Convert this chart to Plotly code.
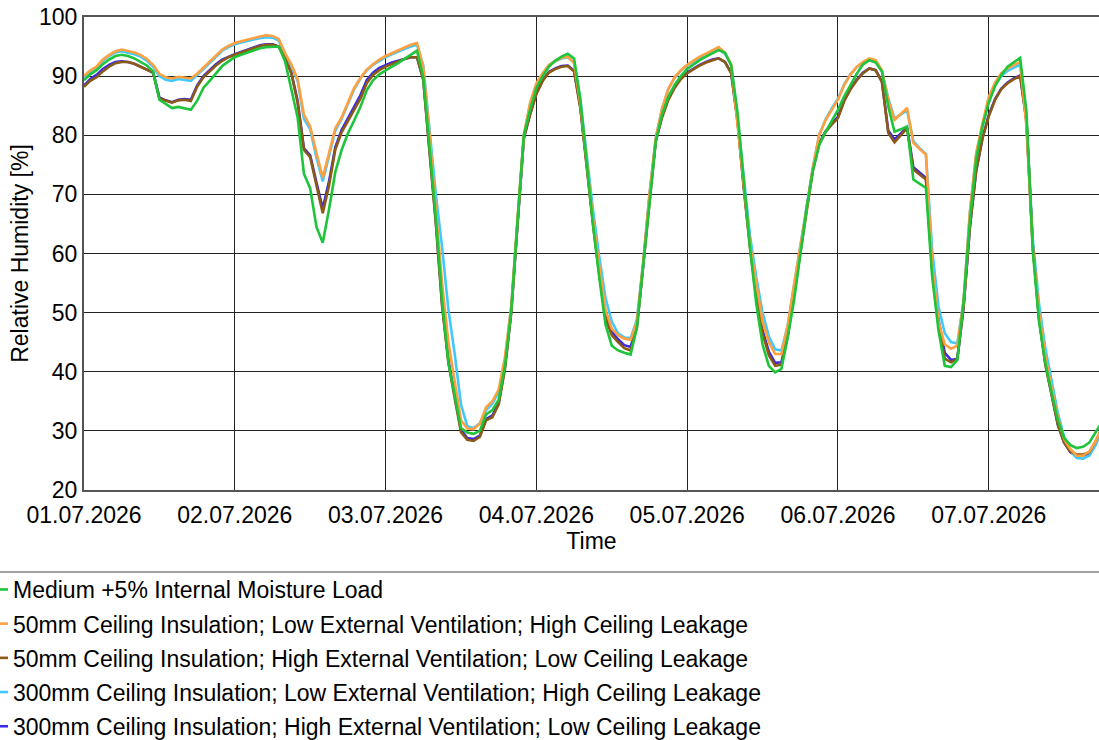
import pandas as pd
import plotly.graph_objects as go

# Hourly relative humidity [%] in the roof space, 01.07.2026 00:00 onwards
time = pd.date_range("2026-07-01 00:00", periods=163, freq="h")

medium_moisture = [
    89.3, 90.3, 91.0, 92.0, 92.8, 93.4, 93.6, 93.4, 93.0, 92.4, 91.8, 90.8,
    86.0, 85.3, 84.6, 84.8, 84.6, 84.3, 85.8, 88.0, 89.2, 90.5, 91.7, 92.5,
    93.2, 93.6, 94.0, 94.4, 94.7, 94.9, 95.0, 95.0, 92.5, 88.0, 83.0, 73.5,
    71.0, 64.5, 61.8, 67.5, 73.8, 77.5, 80.3, 82.5, 84.8, 87.6, 89.3, 90.3,
    91.0, 91.6, 92.2, 92.9, 93.6, 94.3, 89.8, 78.0, 66.0, 52.0, 41.5, 36.0,
    30.5, 29.7, 29.5, 30.0, 32.8, 33.5, 35.3, 41.0, 50.3, 65.5, 80.0, 84.3,
    88.0, 90.0, 91.6, 92.6, 93.3, 93.8, 93.0, 86.0, 75.5, 65.0, 56.0, 48.0,
    44.4, 43.6, 43.2, 42.9, 47.5, 58.0, 69.5, 79.0, 83.5, 86.5, 88.5, 90.0,
    91.2, 92.0, 92.7, 93.3, 93.9, 94.4, 94.0, 91.8, 84.0, 72.0, 61.0, 51.5,
    44.6, 41.0, 39.9, 40.5, 45.8, 52.0, 59.5, 67.5, 74.0, 78.3, 80.5, 82.5,
    84.3, 86.6, 88.5, 90.4, 92.0, 92.7, 92.3, 90.8, 84.9, 80.6, 81.0, 81.5,
    72.5, 71.8, 71.1, 56.0, 47.0, 41.0, 40.8, 42.0, 52.0, 65.5, 76.0, 81.5,
    85.5, 88.3, 90.2, 91.6, 92.4, 93.1, 84.0, 60.5, 48.5, 41.5, 36.5, 31.8,
    28.8, 27.6, 27.1, 27.3, 28.0, 29.8, 31.5,
]

ins50_lowvent_highleak = [
    90.0, 91.0, 91.6, 92.8, 93.6, 94.2, 94.5, 94.3, 94.0, 93.6, 92.9, 91.9,
    90.4, 89.8, 89.6, 89.9, 89.7, 89.6, 90.4, 91.4, 92.4, 93.5, 94.5, 95.1,
    95.6, 95.9, 96.2, 96.4, 96.7, 96.9, 96.8, 96.3, 93.9, 92.0, 89.5, 83.5,
    81.5, 77.0, 72.8, 77.0, 81.2, 83.0, 85.5, 88.0, 89.7, 91.1, 92.0, 92.8,
    93.4, 93.9, 94.4, 94.9, 95.3, 95.6, 91.5, 80.0, 67.0, 55.0, 45.0, 38.5,
    31.8, 30.4, 30.3, 31.2, 34.0, 35.0, 37.0, 42.5, 51.0, 66.0, 80.0, 85.5,
    88.8, 90.5, 91.9, 92.6, 93.1, 93.3, 92.2, 85.4, 75.2, 66.0, 58.0, 50.5,
    47.3, 46.2, 45.6, 45.4, 48.5, 58.5, 70.0, 79.5, 84.5, 87.8, 89.8, 91.0,
    91.9, 92.6, 93.3, 93.8, 94.4, 94.9, 94.0, 92.0, 82.0, 71.5, 61.6, 54.9,
    48.5, 45.0, 43.0, 43.0, 47.8, 54.7, 61.0, 67.5, 74.5, 80.0, 82.5, 84.3,
    86.0, 88.5, 90.3, 91.6, 92.4, 93.0, 92.7, 91.0, 86.0, 82.6, 83.6, 84.6,
    78.7, 77.7, 76.7, 58.0, 48.5, 44.6, 43.9, 44.4, 52.0, 67.0, 77.0, 82.0,
    86.5, 88.9, 90.5, 91.3, 91.9, 92.4, 81.5, 61.0, 50.0, 42.7, 37.3, 32.3,
    28.6, 26.9, 25.8, 25.8, 26.5, 28.2, 30.5,
]

ins50_highvent_lowleak = [
    88.2, 89.2, 89.8, 90.8, 91.6, 92.2, 92.4, 92.4, 92.1, 91.6, 91.2, 90.6,
    86.2, 85.8, 85.5, 85.9, 86.0, 85.8, 88.2, 89.8, 90.8, 91.8, 92.6, 93.2,
    93.6, 94.0, 94.4, 94.8, 95.1, 95.3, 95.3, 95.0, 93.0, 90.5, 85.5, 77.5,
    76.3, 71.5, 66.8, 71.5, 77.6, 80.5, 82.5, 84.3, 86.2, 88.8, 90.2, 91.0,
    91.6, 92.1, 92.5, 92.9, 93.2, 93.2, 89.3, 77.0, 65.0, 51.0, 41.5, 35.5,
    29.8, 28.5, 28.3, 29.0, 31.8, 32.3, 34.5, 40.5, 50.0, 65.0, 79.5, 83.5,
    87.0, 89.2, 90.6, 91.2, 91.6, 91.7, 90.8, 84.5, 74.5, 65.0, 56.5, 49.0,
    46.2, 45.0, 44.0, 43.6, 47.5, 58.0, 69.5, 79.0, 83.0, 86.0, 88.0, 89.5,
    90.5, 91.2, 91.8, 92.3, 92.7, 93.0, 92.4, 90.5, 82.5, 71.0, 61.0, 52.5,
    46.5, 42.8, 41.0, 41.2, 46.0, 53.0, 60.5, 67.5, 74.0, 78.5, 80.5, 81.8,
    82.9, 85.8, 87.8, 89.3, 90.5, 91.3, 91.0, 89.0, 80.4, 78.8, 80.0, 81.2,
    74.2, 73.3, 72.5, 57.0, 48.0, 42.2, 41.6, 42.2, 51.0, 64.5, 74.0, 79.5,
    83.2, 86.0, 87.8, 88.8, 89.5, 90.0, 82.5, 61.5, 49.0, 41.2, 35.8, 31.0,
    28.0, 26.5, 26.0, 26.0, 26.4, 28.2, 30.5,
]

ins300_lowvent_highleak = [
    89.8, 90.8, 91.5, 92.6, 93.4, 94.0, 94.2, 94.0, 93.7, 93.3, 92.6, 91.6,
    90.0, 89.4, 89.2, 89.5, 89.3, 89.2, 90.2, 91.2, 92.2, 93.3, 94.3, 94.9,
    95.4, 95.7, 96.0, 96.2, 96.4, 96.6, 96.5, 96.0, 93.6, 91.7, 89.2, 82.8,
    81.0, 76.2, 72.2, 76.5, 80.8, 82.8, 85.3, 87.8, 89.6, 91.0, 91.9, 92.6,
    93.2, 93.7, 94.2, 94.6, 95.0, 95.3, 91.8, 81.5, 70.0, 61.0, 50.5, 43.0,
    34.5, 30.8, 30.5, 31.3, 33.5, 34.6, 36.6, 42.0, 51.0, 65.5, 79.8, 85.3,
    88.6, 90.4, 91.8, 92.5, 93.0, 93.2, 92.3, 86.0, 76.5, 67.5, 59.5, 52.5,
    48.5, 46.5, 45.8, 45.7, 48.8, 58.5, 70.0, 79.5, 84.5, 87.8, 89.7, 90.9,
    91.8, 92.5, 93.1, 93.6, 94.1, 94.5, 93.8, 92.0, 83.0, 73.0, 63.0, 56.0,
    50.0, 46.0, 43.8, 43.6, 47.8, 54.5, 61.0, 67.5, 74.5, 80.0, 82.6, 84.5,
    86.2, 88.6, 90.3, 91.5, 92.2, 92.7, 92.5, 90.8, 86.3, 82.8, 83.5, 84.2,
    79.0, 77.8, 76.8, 60.5, 51.0, 46.5, 45.0, 44.8, 52.0, 67.0, 76.8, 81.8,
    86.3, 88.5, 90.0, 90.9, 91.5, 92.0, 82.0, 62.5, 51.5, 44.0, 38.5, 33.0,
    29.0, 26.6, 25.4, 25.3, 25.8, 27.6, 30.0,
]

ins300_highvent_lowleak = [
    88.4, 89.5, 90.2, 91.2, 91.9, 92.4, 92.5, 92.4, 92.1, 91.6, 91.2, 90.6,
    86.4, 85.9, 85.6, 86.0, 86.1, 86.0, 88.4, 90.0, 91.0, 92.0, 92.8, 93.3,
    93.7, 94.1, 94.5, 94.9, 95.2, 95.4, 95.4, 95.0, 93.0, 90.6, 85.8, 77.8,
    76.6, 72.0, 67.6, 72.2, 78.0, 80.9, 82.9, 84.7, 86.8, 89.3, 90.6, 91.4,
    91.9, 92.3, 92.6, 92.9, 93.2, 93.2, 89.5, 77.5, 65.5, 51.5, 42.0, 36.0,
    30.2, 28.8, 28.6, 29.2, 32.0, 32.6, 34.8, 40.8, 50.2, 65.0, 79.5, 83.6,
    87.1, 89.3, 90.7, 91.3, 91.7, 91.8, 90.9, 84.8, 75.0, 65.5, 57.0, 49.5,
    46.8, 45.5, 44.5, 44.2, 47.8, 58.0, 69.5, 79.0, 83.2, 86.2, 88.2, 89.6,
    90.6, 91.3, 91.9, 92.4, 92.8, 93.0, 92.4, 90.6, 82.7, 71.5, 61.5, 53.0,
    47.0, 43.4, 41.5, 41.6, 46.2, 53.2, 60.7, 67.6, 74.2, 78.6, 80.6, 82.0,
    83.1, 85.9, 87.9, 89.4, 90.6, 91.3, 91.0, 89.1, 80.8, 79.3, 80.3, 81.3,
    74.6, 73.7, 72.8, 57.5, 48.8, 43.2, 42.0, 42.2, 51.0, 64.5, 74.0, 79.5,
    83.4, 86.1, 87.9, 88.9, 89.6, 90.1, 82.5, 61.5, 49.2, 41.5, 36.0, 31.0,
    28.0, 26.4, 25.8, 25.8, 26.2, 28.0, 30.4,
]

# (legend label, values, colour) in legend order
series = [
    ("Medium +5% Internal Moisture Load", medium_moisture, "#1ec43a"),
    ("50mm Ceiling Insulation; Low External Ventilation; High Ceiling Leakage",
     ins50_lowvent_highleak, "#ffa040"),
    ("50mm Ceiling Insulation; High External Ventilation; Low Ceiling Leakage",
     ins50_highvent_lowleak, "#8c5a14"),
    ("300mm Ceiling Insulation; Low External Ventilation; High Ceiling Leakage",
     ins300_lowvent_highleak, "#40c8ff"),
    ("300mm Ceiling Insulation; High External Ventilation; Low Ceiling Leakage",
     ins300_highvent_lowleak, "#3a2ae6"),
]

FONT = "Liberation Sans, Arial, sans-serif"
FS = 23
W, H = 1099, 740
ML, MT, MB = 84, 17, 250
plot_w = W - ML
plot_h = H - MT - MB

fig = go.Figure()
# draw the last legend entry first so the green series ends up on top;
# legendrank keeps the legend itself in the listed order
n = len(series)
for rank in range(n - 1, -1, -1):
    name, vals, col = series[rank]
    fig.add_trace(go.Scatter(
        x=time, y=vals, name=name, mode="lines",
        line=dict(color=col, width=2.6),
        legendgroup=f"g{rank}",
        legendrank=rank + 1,
        hoverinfo="skip",
    ))

x_end = pd.Timestamp("2026-07-01") + pd.Timedelta(hours=plot_w / 6.283)

fig.update_layout(
    width=W, height=H,
    margin=dict(l=ML, r=0, t=MT, b=MB, autoexpand=False),
    paper_bgcolor="white", plot_bgcolor="white",
    font=dict(family=FONT, size=FS, color="black"),
    showlegend=True,
    legend=dict(
        x=-(ML + 27) / plot_w, xanchor="left",
        y=-(568 - (MT + plot_h)) / plot_h, yanchor="top",
        traceorder="grouped",
        font=dict(family=FONT, size=FS, color="black"),
        bgcolor="rgba(0,0,0,0)",
        tracegroupgap=1.3,
        itemwidth=30,
    ),
    xaxis=dict(
        type="date",
        range=[pd.Timestamp("2026-07-01"), x_end],
        tick0="2026-07-01", dtick=86400000,
        tickformat="%d.%m.%Y",
        showgrid=True, gridcolor="#222222", gridwidth=1,
        showline=True, linecolor="#555555", linewidth=2, mirror=True,
        ticks="", ticklabelstandoff=3,
        title=dict(text="Time", font=dict(size=FS), standoff=4),
        zeroline=False,
    ),
    yaxis=dict(
        range=[20, 100], dtick=10, tick0=20,
        showgrid=True, gridcolor="#222222", gridwidth=1,
        showline=True, linecolor="#555555", linewidth=2, mirror=False,
        ticks="", ticklabelstandoff=0,
        title=dict(text="Relative Humidity [%]", font=dict(size=FS), standoff=4),
        zeroline=False,
    ),
)

# separator between plot and legend
sep_y = -(572 - (MT + plot_h)) / plot_h
fig.add_shape(type="line", xref="paper", yref="paper",
              x0=-ML / plot_w, x1=1, y0=sep_y, y1=sep_y,
              line=dict(color="#444444", width=1))

fig.write_html("out.html")
